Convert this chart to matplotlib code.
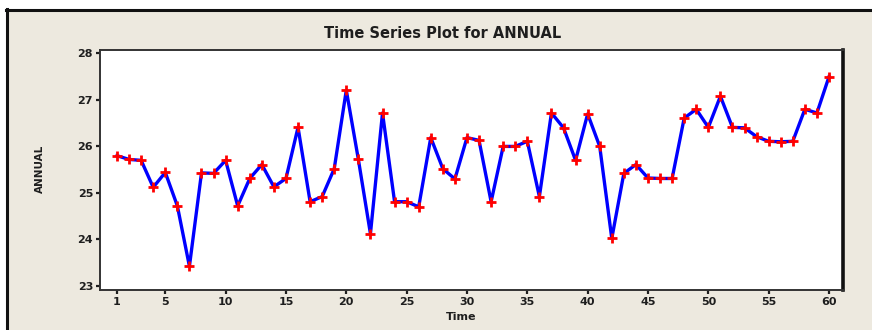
import matplotlib
matplotlib.use("Agg")
import matplotlib.pyplot as plt
from matplotlib.lines import Line2D

# Annual series, one value per time index
time = list(range(1, 61))
annual = [
    25.80, 25.72, 25.70, 25.12, 25.44, 24.72, 23.42, 25.43, 25.42, 25.70,
    24.72, 25.31, 25.61, 25.13, 25.31, 26.41, 24.81, 24.92, 25.52, 27.21,
    25.72, 24.12, 26.72, 24.81, 24.81, 24.70, 26.19, 25.52, 25.30, 26.19,
    26.13, 24.81, 26.00, 26.00, 26.11, 24.92, 26.72, 26.40, 25.70, 26.70,
    26.00, 24.02, 25.42, 25.61, 25.32, 25.31, 25.31, 26.61, 26.80, 26.41,
    27.08, 26.41, 26.40, 26.21, 26.11, 26.10, 26.11, 26.80, 26.72, 27.50,
]
x_ticks = [1, 5, 10, 15, 20, 25, 30, 35, 40, 45, 50, 55, 60]
y_ticks = [23, 24, 25, 26, 27, 28]

bg = "#EDE9DF"
ink = "#1E1E1E"
fig = plt.figure(figsize=(8.72, 3.30), dpi=100)
fig.patch.set_facecolor(bg)

# White margin above and left of the window frame, then the frame lines
fig.add_artist(plt.Rectangle((0, 1 - 9 / 330), 1, 9 / 330,
                             transform=fig.transFigure, facecolor="white",
                             edgecolor="none", zorder=-5))
fig.add_artist(plt.Rectangle((0, 0), 6 / 872, 1,
                             transform=fig.transFigure, facecolor="white",
                             edgecolor="none", zorder=-5))
fig.add_artist(Line2D([6 / 872, 1], [1 - 9.5 / 330, 1 - 9.5 / 330],
                      transform=fig.transFigure, color="#111111", lw=2.2,
                      zorder=-4))
fig.add_artist(Line2D([7 / 872, 7 / 872], [0, 1 - 9 / 330],
                      transform=fig.transFigure, color="#111111", lw=2.2,
                      zorder=-4))

ax = fig.add_axes([100 / 872, 1 - 290 / 330, 743 / 872, 240 / 330])
ax.set_zorder(2)
ax.set_facecolor("white")

ax.plot(time, annual, color="#0000FF", lw=2.4, zorder=2)
ax.plot(time, annual, linestyle="none", marker="+", color="#FF0000",
        markersize=6.5, markeredgewidth=2.0, zorder=3)

ax.set_xlim(-0.41, 61.16)
ax.set_ylim(22.91, 28.075)
ax.set_xticks(x_ticks)
ax.set_yticks(y_ticks)
ax.set_xticklabels([str(v) for v in x_ticks], fontsize=8, fontweight="bold",
                   color=ink)
ax.set_yticklabels([str(v) for v in y_ticks], fontsize=8, fontweight="bold",
                   color=ink)
ax.tick_params(axis="both", direction="out", length=3, width=1.6,
               color=ink, pad=2)

for side in ("top", "left", "bottom"):
    ax.spines[side].set_color("#333333")
    ax.spines[side].set_linewidth(1.4)
ax.spines["right"].set_color("#111111")
ax.spines["right"].set_linewidth(2.6)

fig.text(443 / 872, 1 - 33 / 330, "Time Series Plot for ANNUAL", ha="center",
         va="center", fontsize=10.5, fontweight="bold", color=ink)
fig.text(461 / 872, 1 - 317 / 330, "Time", ha="center", va="center",
         fontsize=8, fontweight="bold", color=ink)
fig.text(40 / 872, 1 - 169 / 330, "ANNUAL", ha="center", va="center",
         rotation=90, fontsize=7.5, fontweight="bold", color=ink)

fig.savefig("out.png", dpi=100, facecolor=fig.get_facecolor())
